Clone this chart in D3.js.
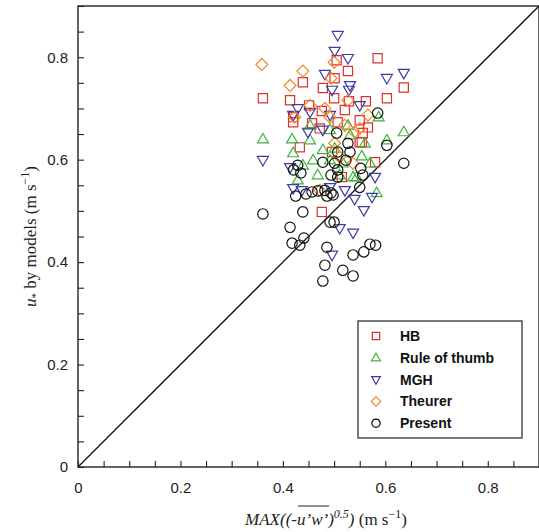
<!DOCTYPE html>
<html>
<head>
<meta charset="utf-8">
<script src="https://cdn.jsdelivr.net/npm/d3@7"></script>
<style>
  body { margin: 0; background: #fff; }
  svg { display: block; }
  .tick text { font-family: "Liberation Sans", Arial, sans-serif; font-size: 15px; fill: #222; }
</style>
</head>
<body>
<div id="chart"></div>
<script>
// [x, y] pairs, m/s
const hb = [
  [0.361, 0.720], [0.414, 0.716], [0.439, 0.751], [0.451, 0.706], [0.478, 0.740],
  [0.476, 0.695], [0.420, 0.683], [0.420, 0.673], [0.457, 0.671], [0.433, 0.624],
  [0.500, 0.720], [0.501, 0.759], [0.505, 0.794], [0.527, 0.773], [0.529, 0.714],
  [0.562, 0.714], [0.585, 0.798], [0.636, 0.741], [0.603, 0.720], [0.550, 0.677],
  [0.566, 0.663], [0.556, 0.652], [0.554, 0.634], [0.507, 0.673], [0.496, 0.615],
  [0.550, 0.634], [0.580, 0.595], [0.515, 0.566], [0.476, 0.498], [0.472, 0.661],
  [0.521, 0.697]
];
const ruleOfThumb = [
  [0.361, 0.640], [0.418, 0.640], [0.420, 0.613], [0.429, 0.560], [0.459, 0.599],
  [0.478, 0.619], [0.453, 0.638], [0.439, 0.589], [0.492, 0.599], [0.511, 0.570],
  [0.527, 0.667], [0.560, 0.632], [0.587, 0.683], [0.603, 0.638], [0.636, 0.654],
  [0.554, 0.607], [0.570, 0.593], [0.537, 0.566], [0.544, 0.566], [0.583, 0.535],
  [0.501, 0.622], [0.492, 0.658], [0.453, 0.667], [0.531, 0.648], [0.468, 0.570],
  [0.517, 0.593]
];
const mgh = [
  [0.361, 0.599], [0.414, 0.585], [0.420, 0.544], [0.437, 0.540], [0.492, 0.546],
  [0.478, 0.658], [0.492, 0.687], [0.420, 0.687], [0.449, 0.654], [0.507, 0.843],
  [0.501, 0.812], [0.482, 0.767], [0.496, 0.736], [0.429, 0.700], [0.453, 0.693],
  [0.527, 0.798], [0.603, 0.759], [0.636, 0.769], [0.529, 0.736], [0.550, 0.706],
  [0.580, 0.566], [0.574, 0.527], [0.540, 0.523], [0.558, 0.501], [0.537, 0.457],
  [0.511, 0.466], [0.496, 0.414], [0.521, 0.540], [0.531, 0.745]
];
const theurer = [
  [0.359, 0.786], [0.439, 0.773], [0.414, 0.745], [0.500, 0.790], [0.494, 0.759],
  [0.482, 0.700], [0.423, 0.683], [0.492, 0.683], [0.501, 0.632], [0.566, 0.687],
  [0.540, 0.654], [0.550, 0.661], [0.537, 0.593], [0.511, 0.605], [0.472, 0.540],
  [0.453, 0.706], [0.521, 0.667], [0.527, 0.716]
];
const present = [
  [0.361, 0.494], [0.414, 0.468], [0.418, 0.437], [0.433, 0.433], [0.441, 0.447],
  [0.439, 0.498], [0.421, 0.580], [0.429, 0.589], [0.435, 0.574], [0.425, 0.529],
  [0.445, 0.533], [0.457, 0.537], [0.468, 0.539], [0.478, 0.363], [0.482, 0.394],
  [0.486, 0.429], [0.492, 0.478], [0.500, 0.478], [0.482, 0.540], [0.494, 0.535],
  [0.486, 0.529], [0.498, 0.531], [0.478, 0.595], [0.501, 0.593], [0.494, 0.570],
  [0.505, 0.652], [0.507, 0.615], [0.527, 0.632], [0.531, 0.615], [0.507, 0.580],
  [0.507, 0.566], [0.517, 0.384], [0.537, 0.373], [0.537, 0.414], [0.558, 0.420],
  [0.570, 0.435], [0.581, 0.433], [0.552, 0.583], [0.556, 0.570], [0.550, 0.546],
  [0.585, 0.691], [0.603, 0.628], [0.636, 0.593], [0.523, 0.599]
];

const seriesNames = ['HB', 'Rule of thumb', 'MGH', 'Theurer', 'Present'];
const tickValues = [0, 0.2, 0.4, 0.6, 0.8];

const width = 539, height = 532;
const margin = { left: 78, top: 6, right: 0, bottom: 65 };

// marker shapes, r = half size
const shapes = {
  square: r => `M${-r},${-r}H${r}V${r}H${-r}Z`,
  up: r => `M0,${-r * 1.15}L${r * 1.1},${r * 0.75}L${-r * 1.1},${r * 0.75}Z`,
  down: r => `M0,${r * 1.15}L${r * 1.1},${-r * 0.75}L${-r * 1.1},${-r * 0.75}Z`,
  diamond: r => `M0,${-r * 1.35}L${r * 1.35},0L0,${r * 1.35}L${-r * 1.35},0Z`,
  circle: r => `M${r},0A${r},${r} 0 1,1 ${-r},0A${r},${r} 0 1,1 ${r},0Z`
};

const series = [
  { name: seriesNames[0], data: hb, shape: 'square', color: '#e0302c', r: 4.6 },
  { name: seriesNames[1], data: ruleOfThumb, shape: 'up', color: '#3cb43c', r: 5 },
  { name: seriesNames[2], data: mgh, shape: 'down', color: '#3a3ca8', r: 5 },
  { name: seriesNames[3], data: theurer, shape: 'diamond', color: '#f0882a', r: 4.4 },
  { name: seriesNames[4], data: present, shape: 'circle', color: '#111', r: 5.2 }
];

const x = d3.scaleLinear().domain([0, 0.9]).range([margin.left, width - margin.right]);
const y = d3.scaleLinear().domain([0, 0.9]).range([height - margin.bottom, margin.top]);

const svg = d3.select('#chart')
  .append('svg')
  .attr('width', width)
  .attr('height', height);

// 1:1 line
svg.append('line')
  .attr('x1', x(0)).attr('y1', y(0))
  .attr('x2', x(0.9)).attr('y2', y(0.9))
  .attr('stroke', '#111')
  .attr('stroke-width', 1.3);

// markers
series.forEach(s => {
  svg.append('g')
    .selectAll('path')
    .data(s.data)
    .enter()
    .append('path')
    .attr('transform', d => `translate(${x(d[0])},${y(d[1])})`)
    .attr('d', shapes[s.shape](s.r))
    .attr('fill', 'none')
    .attr('stroke', s.color)
    .attr('stroke-width', 1.2);
});

// axes, ticks pointing inward
const minorTicks = d3.range(0, 0.901, 0.05);
const xAxis = d3.axisTop(x).tickValues(minorTicks).tickSize(6).tickFormat('');
const yAxis = d3.axisRight(y).tickValues(minorTicks).tickSize(6).tickFormat('');

svg.append('g')
  .attr('transform', `translate(0,${y(0)})`)
  .call(xAxis)
  .call(g => g.select('.domain').remove())
  .selectAll('line').attr('stroke', '#222').attr('stroke-width', 1.1);

svg.append('g')
  .attr('transform', `translate(${x(0)},0)`)
  .call(yAxis)
  .call(g => g.select('.domain').remove())
  .selectAll('line').attr('stroke', '#222').attr('stroke-width', 1.1);

// labels
svg.append('g')
  .attr('transform', `translate(0,${y(0)})`)
  .call(d3.axisBottom(x).tickValues(tickValues).tickSize(0).tickPadding(15)
    .tickFormat(d => d === 0 ? '0' : d3.format('.1f')(d)))
  .call(g => g.select('.domain').remove());

svg.append('g')
  .attr('transform', `translate(${x(0)},0)`)
  .call(d3.axisLeft(y).tickValues(tickValues).tickSize(0).tickPadding(10)
    .tickFormat(d => d === 0 ? '0' : d3.format('.1f')(d)))
  .call(g => g.select('.domain').remove());

// frame
svg.append('rect')
  .attr('x', x(0)).attr('y', y(0.9))
  .attr('width', x(0.9) - x(0)).attr('height', y(0) - y(0.9))
  .attr('fill', 'none')
  .attr('stroke', '#222')
  .attr('stroke-width', 1.4);

// axis titles
const serif = '"Liberation Serif", "Times New Roman", serif';
const xt = svg.append('text')
  .attr('x', 326).attr('y', 525)
  .attr('text-anchor', 'middle')
  .style('font-family', serif)
  .style('font-size', '17px')
  .attr('fill', '#222');
xt.append('tspan').style('font-style', 'italic').text('MAX((-');
xt.append('tspan').attr('class', 'over').style('font-style', 'italic').text('u\u2019w\u2019');
xt.append('tspan').style('font-style', 'italic').text(')');
xt.append('tspan').style('font-style', 'italic').style('font-size', '12px').attr('dy', -7).text('0.5');
xt.append('tspan').style('font-style', 'italic').attr('dy', 7).text(')');
xt.append('tspan').text(' (m s');
xt.append('tspan').style('font-size', '12px').attr('dy', -7).text('\u22121');
xt.append('tspan').attr('dy', 7).text(')');

// overline over u'w'
const over = xt.select('.over').node();
const n = over.getNumberOfChars();
const ox0 = over.getStartPositionOfChar(0).x;
const ox1 = over.getEndPositionOfChar(n - 1).x;
svg.append('line')
  .attr('x1', ox0 + 1).attr('x2', ox1 + 1)
  .attr('y1', 506).attr('y2', 506)
  .attr('stroke', '#222').attr('stroke-width', 1);

const yt = svg.append('text')
  .attr('transform', `translate(36,${y(0.45)}) rotate(-90)`)
  .attr('text-anchor', 'middle')
  .style('font-family', serif)
  .style('font-size', '17px')
  .attr('fill', '#222');
yt.append('tspan').style('font-style', 'italic').text('u');
yt.append('tspan').style('font-size', '11px').attr('dy', 3).text('*');
yt.append('tspan').attr('dy', -3).text(' by models (m s');
yt.append('tspan').style('font-size', '12px').attr('dy', -7).text('\u22121');
yt.append('tspan').attr('dy', 7).text(')');

// legend
const legend = svg.append('g').attr('transform', 'translate(358,321)');
legend.append('rect')
  .attr('width', 164).attr('height', 117)
  .attr('fill', '#fff')
  .attr('stroke', '#222')
  .attr('stroke-width', 1.2);

const rows = legend.selectAll('g.row')
  .data(series)
  .enter()
  .append('g')
  .attr('class', 'row')
  .attr('transform', (d, i) => `translate(18,${15 + i * 21.8})`);

rows.append('path')
  .attr('d', d => shapes[d.shape](d.r * 0.8))
  .attr('fill', 'none')
  .attr('stroke', d => d.color)
  .attr('stroke-width', 1.2);

rows.append('text')
  .attr('x', 24)
  .attr('dy', '0.36em')
  .style('font-family', '"Liberation Sans", Arial, sans-serif')
  .style('font-size', '14px')
  .style('font-weight', 'bold')
  .attr('fill', '#111')
  .text(d => d.name);
</script>
</body>
</html>
